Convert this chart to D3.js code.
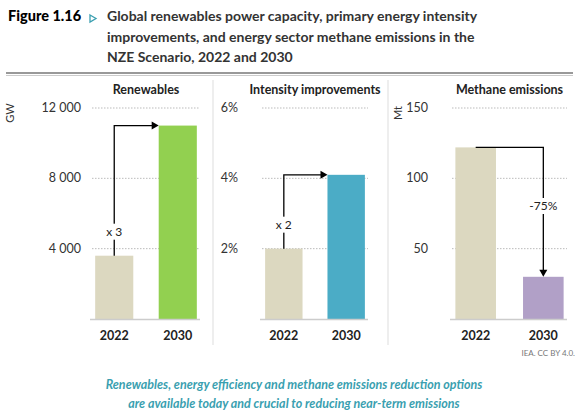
<!DOCTYPE html><html><head><meta charset="utf-8"><script src="https://cdn.jsdelivr.net/npm/d3@7"></script>
<style>body{margin:0;background:#fff}text{font-family:Lato,"Open Sans",sans-serif}</style></head><body>
<svg id="c" width="588" height="417"></svg>
<script>
const years=["2022","2030"];
const panelTitles=["Renewables","Intensity improvements","Methane emissions"];
const renewables=[3600,11000];
const intensity=[2.0,4.1];
const methane=[122,30];
const renTicks=[4000,8000,12000], intTicks=[2,4,6], metTicks=[50,100,150];
const colors=[["#dcd8c0","#92d050"],["#dcd8c0","#4bacc6"],["#dcd8c0","#b1a0c7"]];
const svg=d3.select("#c");
svg.append("text").attr("x",8).attr("y",21).attr("font-size",14.5).attr("font-weight",900).text("Figure 1.16");
svg.append("path").attr("d","M90,15 L96,18.5 L90,22Z").attr("fill","none").attr("stroke","#3a9fb0").attr("stroke-width",1.3);
["Global renewables power capacity, primary energy intensity","improvements, and energy sector methane emissions in the","NZE Scenario, 2022 and 2030"].forEach((t,i)=>svg.append("text").attr("x",107).attr("y",21+i*20.5).attr("font-size",14).attr("font-weight",700).attr("fill","#333").text(t));
svg.append("line").attr("x1",6).attr("x2",573).attr("y1",73).attr("y2",73).attr("stroke","#999").attr("stroke-width",2);
svg.append("line").attr("x1",6).attr("x2",573).attr("y1",75.5).attr("y2",75.5).attr("stroke","#ccc").attr("stroke-width",1);
const panels=[
 {data:renewables,ticks:renTicks,max:12000,x0:92,x1:200,lx:81,unit:"GW",ux:14,fmt:d=>d3.format(",")(d).replace(","," "),label:"x 3",dir:"up"},
 {data:intensity,ticks:intTicks,max:6,x0:262,x1:368,lx:238,unit:null,fmt:d=>d+"%",label:"x 2",dir:"up"},
 {data:methane,ticks:metTicks,max:150,x0:452,x1:567,lx:428,unit:"Mt",ux:402,fmt:d=>d,label:"-75%",dir:"down"}];
[213,388].forEach(x=>svg.append("line").attr("x1",x).attr("x2",x).attr("y1",80).attr("y2",345).attr("stroke","#ddd"));
panels.forEach((p,i)=>{
 const y=d3.scaleLinear().domain([0,p.max]).range([319,108]);
 const x=d3.scaleBand().domain(years).range([p.x0,p.x1]).paddingInner(0.4).paddingOuter(0.05);
 const g=svg.append("g");
 g.append("text").attr("x",(p.x0+p.x1)/2).attr("y",94).attr("text-anchor","middle").attr("font-size",12.5).attr("font-weight",700).attr("fill","#222").text(panelTitles[i]);
 p.ticks.forEach(t=>{
  g.append("line").attr("x1",p.x0).attr("x2",p.x1).attr("y1",y(t)).attr("y2",y(t)).attr("stroke","#aaa").attr("stroke-dasharray","1.5,1.5").attr("stroke-width",0.8);
  g.append("text").attr("x",p.lx).attr("y",y(t)+4).attr("text-anchor","end").attr("font-size",12.5).attr("fill","#333").text(p.fmt(t));
 });
 if(p.unit) g.append("text").attr("transform",`translate(${p.ux},${y(p.max)+5}) rotate(-90)`).attr("text-anchor","middle").attr("font-size",11).attr("fill","#333").text(p.unit);
 g.selectAll("rect").data(p.data).join("rect").attr("x",(d,j)=>x(years[j])).attr("width",x.bandwidth()).attr("y",d=>y(d)).attr("height",d=>319-y(d)).attr("fill",(d,j)=>colors[i][j]);
 g.append("line").attr("x1",p.x0-2).attr("x2",p.x1).attr("y1",319.5).attr("y2",319.5).attr("stroke","#ccc").attr("stroke-width",1.5);
 years.forEach(yr=>g.append("text").attr("x",x(yr)+x.bandwidth()/2).attr("y",340).attr("text-anchor","middle").attr("font-size",12.5).attr("font-weight",700).attr("fill","#222").text(yr));
 const cx0=x(years[0])+x.bandwidth()/2, cx1=x(years[1])+x.bandwidth()/2;
 let path,lx,ly;
 if(p.dir==="up"){path=`M${cx0},${y(p.data[0])} V${y(p.data[1])} H${x(years[1])-6}`;
  g.append("path").attr("d",`M${x(years[1])-7},${y(p.data[1])-4} L${x(years[1])},${y(p.data[1])} L${x(years[1])-7},${y(p.data[1])+4}Z`).attr("fill","#000");
  lx=cx0;ly=y(p.data[0])-20;}
 else{path=`M${cx0},${y(p.data[0])} H${cx1} V${y(p.data[1])-6}`;
  g.append("path").attr("d",`M${cx1-4},${y(p.data[1])-7} L${cx1},${y(p.data[1])} L${cx1+4},${y(p.data[1])-7}Z`).attr("fill","#000");
  lx=cx1;ly=210;}
 g.append("path").attr("d",path).attr("fill","none").attr("stroke","#000").attr("stroke-width",1.3);
 g.append("rect").attr("x",lx-18).attr("y",ly-12).attr("width",36).attr("height",16).attr("fill","#fff");
 g.append("text").attr("x",lx).attr("y",ly).attr("text-anchor","middle").attr("font-size",12).attr("fill","#222").text(p.label);
});
svg.append("text").attr("x",575).attr("y",356).attr("text-anchor","end").attr("font-size",8).attr("fill","#777").text("IEA. CC BY 4.0.");
["Renewables, energy efficiency and methane emissions reduction options","are available today and crucial to reducing near-term emissions"].forEach((t,i)=>svg.append("text").attr("x",294).attr("y",389+i*19).attr("text-anchor","middle").attr("font-size",12.5).attr("font-style","italic").attr("font-weight",700).attr("fill","#3a9fb0").text(t));
</script></body></html>
